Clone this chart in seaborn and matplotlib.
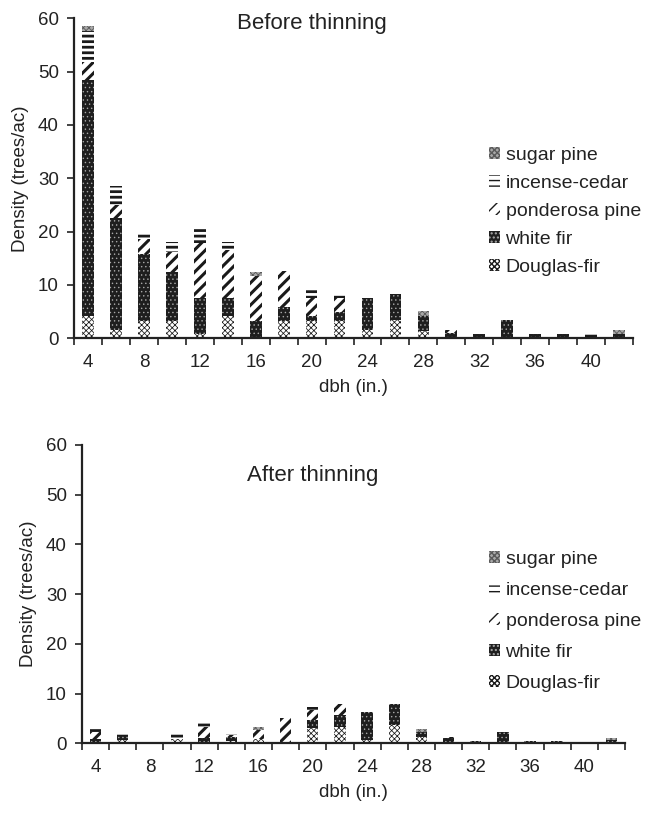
import numpy as np
import matplotlib
matplotlib.use('Agg')
import matplotlib.pyplot as plt
import seaborn as sns
from matplotlib.patches import Patch

# diameter classes (in.)
dbh = [4, 6, 8, 10, 12, 14, 16, 18, 20, 22, 24, 26, 28, 30, 32, 34, 36, 38, 40, 42]
species = ['Douglas-fir', 'white fir', 'ponderosa pine', 'incense-cedar', 'sugar pine']

# density by species (trees/ac), before thinning
before_df = [4.2, 1.6, 3.3, 3.3, 0.9, 4.2, 0, 3.3, 3.3, 3.3, 1.6, 3.4, 1.4, 0, 0, 0, 0, 0, 0, 0]
before_wf = [44.2, 20.9, 12.6, 9.2, 6.7, 3.4, 3.3, 2.5, 0.8, 1.7, 5.9, 5.0, 2.7, 1.0, 0.9, 3.4, 0.9, 0.9, 0, 0.75]
before_pp = [3.35, 2.5, 2.7, 3.6, 10.2, 9.0, 8.3, 6.8, 3.5, 2.6, 0, 0, 0, 0.6, 0, 0, 0, 0, 0, 0]
before_ic = [5.85, 3.6, 1.3, 2.0, 2.9, 1.5, 0, 0, 1.6, 0.8, 0, 0, 0, 0, 0, 0, 0, 0, 0.8, 0]
before_sp = [1.0, 0, 0, 0, 0, 0, 0.9, 0, 0, 0, 0, 0, 0.95, 0, 0, 0, 0, 0, 0, 0.85]

# density by species (trees/ac), after thinning
after_df = [0.3, 0.7, 0, 0.8, 0.2, 0.5, 0.8, 0, 3.1, 3.3, 0.7, 3.7, 1.3, 0, 0, 0.3, 0, 0, 0, 0]
after_wf = [0.5, 0.8, 0, 0, 0.8, 0.8, 0, 0, 1.5, 2.4, 5.6, 4.3, 0.9, 1.0, 0.5, 1.9, 0.5, 0.5, 0, 0.7]
after_pp = [1.5, 0, 0, 0, 2.3, 0.4, 1.9, 5.0, 2.1, 2.3, 0, 0, 0, 0.3, 0, 0, 0, 0, 0, 0]
after_ic = [1.0, 0.8, 0, 1.5, 0.8, 0.6, 0, 0, 0.5, 0, 0, 0, 0, 0, 0, 0, 0, 0, 0.25, 0]
after_sp = [0, 0, 0, 0, 0, 0, 0.6, 0, 0, 0, 0, 0, 0.6, 0, 0, 0, 0, 0, 0, 0.4]

styles = {
    'Douglas-fir':    dict(fc='white',   ec='#1a1a1a', hatch='xxxxxx', hlw=0.55),
    'white fir':      dict(fc='#1e1e1e', ec='#a8a8a8', hatch='....',   hlw=0.5),
    'ponderosa pine': dict(fc='white',   ec='#1a1a1a', hatch='///',    hlw=2.2),
    'incense-cedar':  dict(fc='white',   ec='#1a1a1a', hatch='---',    hlw=2.0),
    'sugar pine':     dict(fc='#a8a8a8', ec='#5a5a5a', hatch='xxxxxx', hlw=0.6),
}

sns.set_style('ticks')
plt.rcParams['font.family'] = ['Liberation Sans', 'DejaVu Sans']
plt.rcParams['text.color'] = '#222222'

fig = plt.figure(figsize=(6.52, 8.15), dpi=100)
ax1 = fig.add_axes([0.1135, 0.5849, 0.8574, 0.3926])
ax2 = fig.add_axes([0.1258, 0.0880, 0.8328, 0.3660])

cats = [str(d) for d in dbh]


def draw_panel(ax, layers):
    tops = np.cumsum(np.array(layers, dtype=float), axis=0)
    # tallest (cumulative) layer first, lower layers painted over it
    for i in range(len(species) - 1, -1, -1):
        st = styles[species[i]]
        n0 = len(ax.patches)
        sns.barplot(x=cats, y=tops[i], order=cats, color=st['fc'], saturation=1,
                    width=0.42, errorbar=None, ax=ax, hatch=st['hatch'],
                    edgecolor=st['ec'], linewidth=0)
        for p in ax.patches[n0:]:
            p.set_facecolor(st['fc'])
            if hasattr(p, 'set_hatch_linewidth'):
                p.set_hatch_linewidth(st['hlw'])

    ax.set_xlim(-0.5, len(dbh) - 0.5)
    ax.set_ylim(0, 60)
    ax.set_yticks(range(0, 61, 10))
    ax.set_xticks(range(0, len(dbh), 2))
    ax.set_xticklabels([cats[i] for i in range(0, len(dbh), 2)])
    ax.set_xticks(np.arange(-0.5, len(dbh), 1), minor=True)
    ax.tick_params(axis='x', which='major', length=0, pad=11, labelsize=13.5, labelcolor='#222222')
    ax.tick_params(axis='x', which='minor', length=5, width=1.2, direction='out', color='#222222')
    ax.tick_params(axis='y', length=5, width=1.2, direction='out', pad=6, labelsize=13.5,
                   labelcolor='#222222', color='#222222')
    for s in ['top', 'right']:
        ax.spines[s].set_visible(False)
    for s in ['left', 'bottom']:
        ax.spines[s].set_linewidth(1.6)
        ax.spines[s].set_color('#222222')
    ax.set_xlabel('dbh (in.)', fontsize=13.5, labelpad=6, color='#222222')
    ax.set_ylabel('Density (trees/ac)', fontsize=13.5, labelpad=6, color='#222222')


draw_panel(ax1, [before_df, before_wf, before_pp, before_ic, before_sp])
draw_panel(ax2, [after_df, after_wf, after_pp, after_ic, after_sp])

fig.text(0.478, 1 - 23 / 815, 'Before thinning', ha='center', va='center', fontsize=16)
fig.text(0.480, 1 - 476 / 815, 'After thinning', ha='center', va='center', fontsize=16)


def make_handles():
    hs = []
    for sp in species[::-1]:
        st = styles[sp]
        h = Patch(facecolor=st['fc'], edgecolor=st['ec'], hatch=st['hatch'], linewidth=0, label=sp)
        if hasattr(h, 'set_hatch_linewidth'):
            h.set_hatch_linewidth(st['hlw'])
        hs.append(h)
    return hs


for ax, top_y, spacing in [(ax1, 147, 0.56), (ax2, 551, 0.72)]:
    ax.legend(handles=make_handles(), loc='upper left',
              bbox_to_anchor=(489 / 652, 1 - top_y / 815), bbox_transform=fig.transFigure,
              frameon=False, fontsize=14, handlelength=0.55, handleheight=0.55,
              handletextpad=0.3, labelspacing=spacing, borderpad=0, borderaxespad=0)

fig.savefig('out.png', dpi=100)
